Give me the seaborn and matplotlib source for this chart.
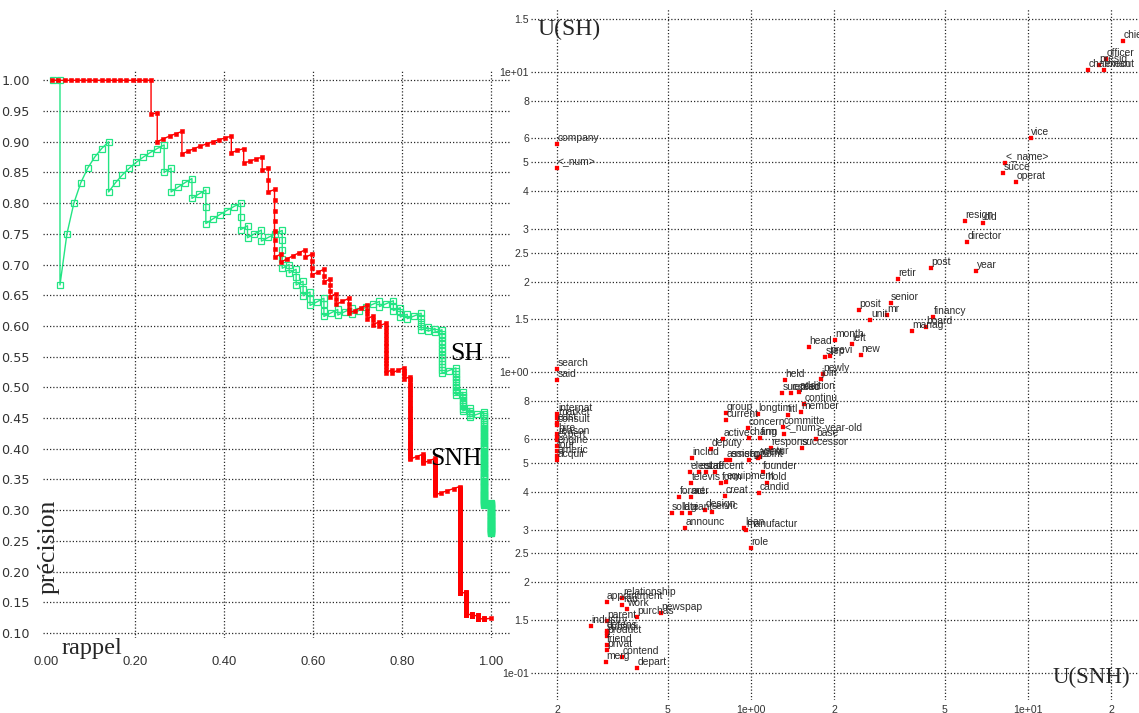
import numpy as np
import pandas as pd
import matplotlib
matplotlib.use("Agg")
import matplotlib.pyplot as plt
from matplotlib.ticker import FixedLocator, FixedFormatter, NullLocator
from matplotlib.transforms import offset_copy
import seaborn as sns

# ---------------------------------------------------------------------------
# Rappel / précision : rankings encoded as alternating run lengths
# (relevant, non-relevant, relevant, ...) in rank order
# ---------------------------------------------------------------------------
sh_runs = [2, 1, 7, 1, 8, 1, 1, 1, 3, 1, 2, 2, 5, 2, 1, 1, 2, 1, 3, 4,
           1, 1, 1, 2, 1, 2, 1, 2, 2, 3,
           2, 1, 2, 1, 4, 1, 2, 2, 1, 2, 1, 1, 2, 4, 1, 1, 1, 1, 1, 13,
           2, 10, 1, 8, 1, 4, 2, 67, 1, 39]
sh_relevant = 64

snh_runs = [17, 1, 1, 1, 4, 1, 8, 1, 2, 1, 3, 1, 1, 2, 1, 7, 1, 1, 4, 1,
            1, 3, 2, 2, 1, 3, 1, 2, 2, 3, 3, 3, 1, 2, 1, 1, 1, 14, 1, 1,
            2, 4, 1, 40, 2, 6, 2, 30, 4, 210, 1, 118, 1, 14, 1, 30, 1, 6, 1]
snh_relevant = 72

recall_ticks = [0.0, 0.2, 0.4, 0.6, 0.8, 1.0]
recall_labels = ["0.00", "0.20", "0.40", "0.60", "0.80", "1.00"]
precision_ticks = [0.10, 0.15, 0.20, 0.25, 0.30, 0.35, 0.40, 0.45, 0.50, 0.55,
                   0.60, 0.65, 0.70, 0.75, 0.80, 0.85, 0.90, 0.95, 1.00]
precision_labels = [f"{v:.2f}" for v in precision_ticks]

# ---------------------------------------------------------------------------
# Utilité des termes : U(SNH) vs U(SH)
# ---------------------------------------------------------------------------
words = ["company", "<_num>", "chie", "officer", "presid", "chairman", "execut",
         "vice", "<_name>", "succe", "operat", "resign", "old", "director",
         "post", "year", "retir", "posit", "senior", "mr", "unit", "financy",
         "board", "manag", "month", "left", "new", "head", "step", "previ",
         "newly", "join", "search", "said", "held", "succeed", "replac",
         "addition", "continu", "member", "titl", "group", "current",
         "longtim", "internat", "market", "concern", "committe", "active",
         "chang", "firm", "respons", "deputy", "successor", "includ",
         "founder", "televis", "equipment", "hold", "candid", "creat",
         "former", "act", "sold", "announc", "lean", "manufactur", "role",
         "appointment", "relationship", "ran", "work", "newspap", "purchas",
         "parent", "industry", "defens", "product", "privat", "contend",
         "merg", "depart",
         "east", "consult", "hire", "reason", "expert", "engine", "tour",
         "americ", "acquir", "<_num>-year-old", "appoint", "assist", "emerg",
         "agent", "ventur", "base", "elect", "estat", "staff", "recent",
         "form", "late", "giant", "design", "servic", "friend", "subsidi"]
u_snh = [0.20, 0.20, 22.0, 19.1, 18.05, 16.47, 18.86,
         10.23, 8.26, 8.12, 9.05, 5.91, 6.88, 6.04,
         4.45, 6.51, 3.40, 2.45, 3.19, 3.09, 2.70, 4.55,
         4.28, 3.80, 2.01, 2.32, 2.49, 1.62, 1.85, 1.93,
         1.815, 1.785, 0.20, 0.20, 1.327, 1.297, 1.394,
         1.494, 1.554, 1.512, 1.357, 0.812, 0.812,
         1.057, 0.20, 0.20, 0.978, 1.308, 0.790,
         0.986, 1.078, 1.181, 0.715, 1.524, 0.614,
         1.102, 0.609, 0.812, 1.139, 1.066, 0.806,
         0.550, 0.607, 0.517, 0.578, 0.946, 0.959, 1.002,
         0.301, 0.343, 0.343, 0.356, 0.472, 0.387,
         0.301, 0.2645, 0.301, 0.301, 0.301, 0.343,
         0.2997, 0.387,
         0.20, 0.20, 0.20, 0.20, 0.20, 0.20, 0.20,
         0.20, 0.20, 1.315, 0.983, 0.812, 0.840,
         1.057, 1.078, 1.717, 0.602, 0.649, 0.686, 0.741,
         0.781, 0.562, 0.602, 0.682, 0.721, 0.301, 0.301]
u_sh = [5.74, 4.77, 12.68, 11.0, 10.53, 10.1, 10.15,
        6.00, 4.98, 4.60, 4.31, 3.19, 3.13, 2.71,
        2.22, 2.17, 2.04, 1.612, 1.696, 1.555, 1.489, 1.531,
        1.412, 1.375, 1.281, 1.245, 1.144, 1.217, 1.127, 1.133,
        0.987, 0.948, 1.026, 0.943, 0.943, 0.851, 0.853,
        0.860, 0.784, 0.740, 0.721, 0.734, 0.694,
        0.725, 0.725, 0.703, 0.651, 0.656, 0.598,
        0.603, 0.603, 0.559, 0.554, 0.559, 0.517,
        0.467, 0.427, 0.433, 0.429, 0.396, 0.388,
        0.386, 0.386, 0.340, 0.303, 0.303, 0.300, 0.260,
        0.1725, 0.177, 0.168, 0.1627, 0.1586, 0.1531,
        0.1488, 0.1432, 0.1381, 0.1327, 0.1192, 0.1132,
        0.1085, 0.1036,
        0.680, 0.668, 0.623, 0.608, 0.596, 0.569, 0.549,
        0.527, 0.511, 0.623, 0.511, 0.511, 0.511,
        0.517, 0.524, 0.598, 0.467, 0.467, 0.467, 0.467,
        0.427, 0.341, 0.341, 0.348, 0.344, 0.1238, 0.1354]

u_x_ticks = [0.2, 0.5, 1, 2, 5, 10, 20]
u_x_labels = ["2", "5", "1e+00", "2", "5", "1e+01", "2"]
u_y_ticks = [0.1, 0.15, 0.2, 0.25, 0.3, 0.4, 0.5, 0.6, 0.8,
             1, 1.5, 2, 2.5, 3, 4, 5, 6, 8, 10, 15]
u_y_labels = ["1e-01", "1.5", "2", "2.5", "3", "4", "5", "6", "8",
              "1e+00", "1.5", "2", "2.5", "3", "4", "5", "6", "8",
              "1e+01", "1.5"]


def pr_points(runs, n_relevant):
    relevant = np.repeat(np.arange(len(runs)) % 2 == 0, runs)
    found = np.cumsum(relevant)
    rank = np.arange(1, relevant.size + 1)
    return pd.DataFrame({"rappel": found / n_relevant, "precision": found / rank})


sns.set_theme(style="white")
plt.rcParams["font.family"] = ["DejaVu Sans"]
NARROW = ["Liberation Sans Narrow", "Liberation Sans", "DejaVu Sans"]
SERIF = ["Liberation Serif", "DejaVu Serif"]

W, H = 1139, 713
fig = plt.figure(figsize=(W / 100, H / 100), dpi=100)
fig.patch.set_facecolor("white")


def box(left, top, right, bottom):
    return [left / W, 1 - bottom / H, (right - left) / W, (bottom - top) / H]


GRID = dict(color="#2a2a2a", linewidth=0.9, linestyle=(0, (1, 1.6)))
RED = "#ff0000"
GREEN = "#22e583"

# ---------------- left panel ----------------
ax1 = fig.add_axes(box(43, 70, 510, 638))
ax1.set_facecolor("white")
for s in ax1.spines.values():
    s.set_visible(False)
ax1.set_xlim(-0.00697, 1.04364)
ax1.set_ylim(0.0917, 1.0168)

for v in recall_ticks[1:]:
    ax1.axvline(v, zorder=0, **GRID)
for v in precision_ticks:
    ax1.axhline(v, zorder=0, **GRID)

sh_df = pr_points(sh_runs, sh_relevant)
snh_df = pr_points(snh_runs, snh_relevant)

sns.lineplot(data=sh_df, x="rappel", y="precision", ax=ax1, sort=False,
             estimator=None, color=GREEN, linewidth=1.0, marker="s",
             markersize=4.2, markerfacecolor="none", markeredgecolor=GREEN,
             markeredgewidth=0.9, zorder=3)
sns.lineplot(data=snh_df, x="rappel", y="precision", ax=ax1, sort=False,
             estimator=None, color=RED, linewidth=1.0, marker="s",
             markersize=2.6, markerfacecolor=RED, markeredgecolor=RED,
             markeredgewidth=0.4, zorder=4)

ax1.xaxis.set_major_locator(FixedLocator(recall_ticks))
ax1.xaxis.set_major_formatter(FixedFormatter(recall_labels))
ax1.yaxis.set_major_locator(FixedLocator(precision_ticks))
ax1.yaxis.set_major_formatter(FixedFormatter(precision_labels))
ax1.tick_params(axis="x", length=0, pad=13, labelsize=9.4, labelcolor="#333333")
ax1.tick_params(axis="y", length=9, width=1.0, color="#8a8a8a", direction="out",
                pad=0.5, labelsize=9.2, labelcolor="#333333")
for lab in ax1.get_xticklabels():
    lab.set_family(NARROW)
ax1.set_xlabel("")
ax1.set_ylabel("")

ax1.text(0.9087, 0.5445, "SH", family=SERIF, fontsize=18.5, color="black",
         ha="left", va="baseline", zorder=6)
ax1.text(0.865, 0.3735, "SNH", family=SERIF, fontsize=18.5, color="black",
         ha="left", va="baseline", zorder=6)

fig.text(55 / W, 1 - 594 / H, "précision", family=SERIF, fontsize=18.5,
         rotation=90, rotation_mode="anchor", ha="left", va="baseline")
fig.text(62 / W, 1 - 654 / H, "rappel", family=SERIF, fontsize=17.5,
         ha="left", va="baseline")

# ---------------- right panel ----------------
ax2 = fig.add_axes(box(531, 8, 1139, 700))
ax2.set_facecolor("white")
for s in ax2.spines.values():
    s.set_visible(False)
ax2.set_xscale("log")
ax2.set_yscale("log")
ax2.set_xlim(0.1606, 25.16)
ax2.set_ylim(0.0813, 16.29)

for v in u_x_ticks:
    ax2.axvline(v, zorder=0, **GRID)
for v in u_y_ticks:
    ax2.axhline(v, zorder=0, **GRID)

words_df = pd.DataFrame({"mot": words, "U_SNH": u_snh, "U_SH": u_sh})
sns.scatterplot(data=words_df, x="U_SNH", y="U_SH", ax=ax2, marker="s", s=5,
                color=RED, edgecolor=RED, linewidth=0.2, zorder=3)

label_tr = offset_copy(ax2.transData, fig=fig, x=0.5, y=3, units="dots")
for m, xv, yv in zip(words_df["mot"], words_df["U_SNH"], words_df["U_SH"]):
    ax2.text(xv, yv, m, transform=label_tr, family=NARROW, fontsize=7.4,
             color="#2b2b2b", ha="left", va="baseline", zorder=4, clip_on=False)

ax2.xaxis.set_major_locator(FixedLocator(u_x_ticks))
ax2.xaxis.set_major_formatter(FixedFormatter(u_x_labels))
ax2.xaxis.set_minor_locator(NullLocator())
ax2.yaxis.set_major_locator(FixedLocator(u_y_ticks))
ax2.yaxis.set_major_formatter(FixedFormatter(u_y_labels))
ax2.yaxis.set_minor_locator(NullLocator())
ax2.tick_params(axis="both", length=0, labelsize=7.6, labelcolor="#333333")
ax2.tick_params(axis="x", pad=3.5)
ax2.tick_params(axis="y", pad=1.5)
for lab in ax2.get_xticklabels() + ax2.get_yticklabels():
    lab.set_family(NARROW)
ax2.set_xlabel("")
ax2.set_ylabel("")

fig.text(537 / W, 1 - 35 / H, "U(SH)", family=SERIF, fontsize=17.0,
         ha="left", va="baseline")
fig.text(1053 / W, 1 - 683 / H, "U(SNH)", family=SERIF, fontsize=16.6,
         ha="left", va="baseline")

fig.savefig("out.png", dpi=100, facecolor="white")
